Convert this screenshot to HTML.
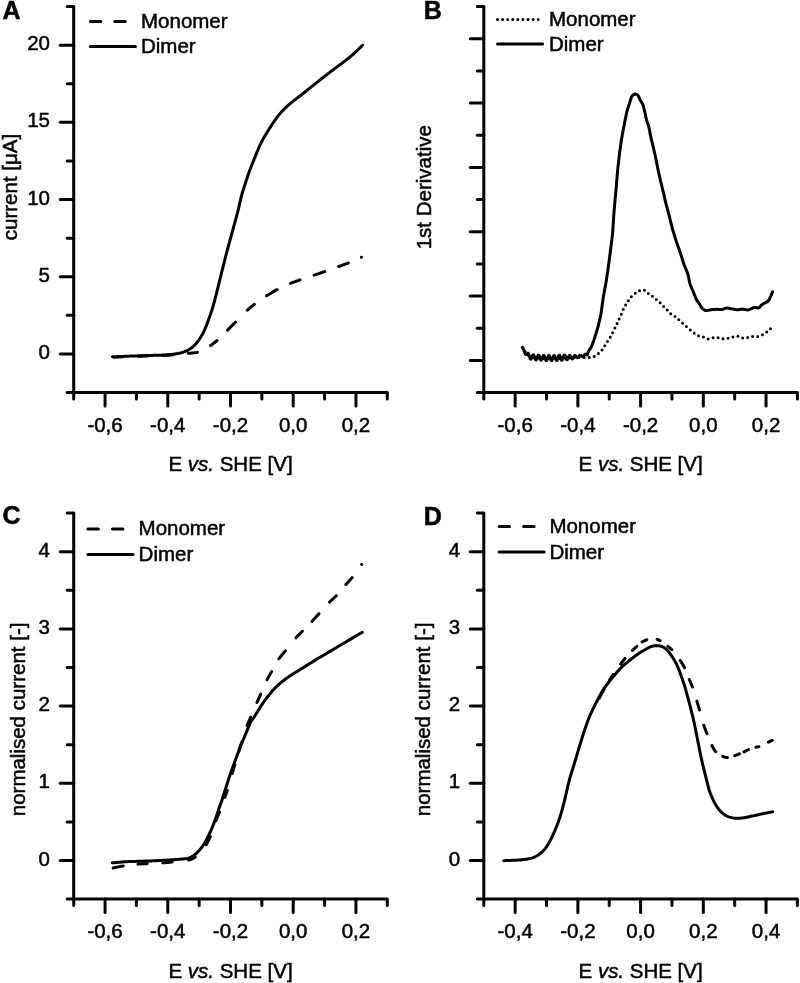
<!DOCTYPE html>
<html><head><meta charset="utf-8"><style>
html,body{margin:0;padding:0;background:#fff;}
body{width:800px;height:983px;overflow:hidden;font-family:"Liberation Sans", sans-serif;}
svg{display:block;will-change:transform;}
</style></head><body>
<svg width="800" height="983" viewBox="0 0 800 983">
<rect width="800" height="983" fill="#fff"/>
<g stroke="#000" stroke-width="3" stroke-linecap="round" fill="none">
<path d="M73.70,6.56 L73.70,392.56 L387.30,392.56" stroke-linejoin="miter" stroke-linecap="butt"/>
<path d="M105.06,392.56 v13.50"/>
<path d="M167.78,392.56 v13.50"/>
<path d="M230.50,392.56 v13.50"/>
<path d="M293.22,392.56 v13.50"/>
<path d="M355.94,392.56 v13.50"/>
<path d="M73.70,392.56 v6.50"/>
<path d="M136.42,392.56 v6.50"/>
<path d="M199.14,392.56 v6.50"/>
<path d="M261.86,392.56 v6.50"/>
<path d="M324.58,392.56 v6.50"/>
<path d="M387.30,392.56 v6.50"/>
<path d="M73.70,353.96 h-13.50"/>
<path d="M73.70,276.76 h-13.50"/>
<path d="M73.70,199.56 h-13.50"/>
<path d="M73.70,122.36 h-13.50"/>
<path d="M73.70,45.16 h-13.50"/>
<path d="M73.70,392.56 h-6.50"/>
<path d="M73.70,315.36 h-6.50"/>
<path d="M73.70,238.16 h-6.50"/>
<path d="M73.70,160.96 h-6.50"/>
<path d="M73.70,83.76 h-6.50"/>
<path d="M73.70,6.56 h-6.50"/>
</g>
<g font-family='"Liberation Sans", sans-serif' font-size="20.5" fill="#000" stroke="#000" stroke-width="0.5">
<text x="105.06" y="431.56" text-anchor="middle">-0,6</text>
<text x="167.78" y="431.56" text-anchor="middle">-0,4</text>
<text x="230.50" y="431.56" text-anchor="middle">-0,2</text>
<text x="293.22" y="431.56" text-anchor="middle">0,0</text>
<text x="355.94" y="431.56" text-anchor="middle">0,2</text>
<text x="50.00" y="358.96" text-anchor="end">0</text>
<text x="50.00" y="281.76" text-anchor="end">5</text>
<text x="50.00" y="204.56" text-anchor="end">10</text>
<text x="50.00" y="127.36" text-anchor="end">15</text>
<text x="50.00" y="50.16" text-anchor="end">20</text>
<text x="230.50" y="471.06" text-anchor="middle">E <tspan font-style="italic">vs.</tspan> SHE [V]</text>
<text transform="translate(16.50,187.00) rotate(-90)" text-anchor="middle">current [μA]</text>
<text x="2.60" y="18.90" font-weight="bold" font-size="25">A</text>
</g>
<g stroke="#000" stroke-width="3" stroke-linecap="round" fill="none">
<path d="M483.80,6.56 L483.80,392.56 L797.40,392.56" stroke-linejoin="miter" stroke-linecap="butt"/>
<path d="M515.16,392.56 v13.50"/>
<path d="M577.88,392.56 v13.50"/>
<path d="M640.60,392.56 v13.50"/>
<path d="M703.32,392.56 v13.50"/>
<path d="M766.04,392.56 v13.50"/>
<path d="M483.80,392.56 v6.50"/>
<path d="M546.52,392.56 v6.50"/>
<path d="M609.24,392.56 v6.50"/>
<path d="M671.96,392.56 v6.50"/>
<path d="M734.68,392.56 v6.50"/>
<path d="M797.40,392.56 v6.50"/>
<path d="M483.80,360.39 h-13.50"/>
<path d="M483.80,296.06 h-13.50"/>
<path d="M483.80,231.73 h-13.50"/>
<path d="M483.80,167.39 h-13.50"/>
<path d="M483.80,103.06 h-13.50"/>
<path d="M483.80,38.73 h-13.50"/>
<path d="M483.80,392.56 h-6.50"/>
<path d="M483.80,328.23 h-6.50"/>
<path d="M483.80,263.89 h-6.50"/>
<path d="M483.80,199.56 h-6.50"/>
<path d="M483.80,135.23 h-6.50"/>
<path d="M483.80,70.89 h-6.50"/>
<path d="M483.80,6.56 h-6.50"/>
</g>
<g font-family='"Liberation Sans", sans-serif' font-size="20.5" fill="#000" stroke="#000" stroke-width="0.5">
<text x="515.16" y="431.56" text-anchor="middle">-0,6</text>
<text x="577.88" y="431.56" text-anchor="middle">-0,4</text>
<text x="640.60" y="431.56" text-anchor="middle">-0,2</text>
<text x="703.32" y="431.56" text-anchor="middle">0,0</text>
<text x="766.04" y="431.56" text-anchor="middle">0,2</text>
<text x="640.60" y="471.06" text-anchor="middle">E <tspan font-style="italic">vs.</tspan> SHE [V]</text>
<text transform="translate(431.00,187.25) rotate(-90)" text-anchor="middle">1st Derivative</text>
<text x="423.80" y="18.90" font-weight="bold" font-size="25">B</text>
</g>
<g stroke="#000" stroke-width="3" stroke-linecap="round" fill="none">
<path d="M73.70,513.10 L73.70,899.10 L387.30,899.10" stroke-linejoin="miter" stroke-linecap="butt"/>
<path d="M105.06,899.10 v13.50"/>
<path d="M167.78,899.10 v13.50"/>
<path d="M230.50,899.10 v13.50"/>
<path d="M293.22,899.10 v13.50"/>
<path d="M355.94,899.10 v13.50"/>
<path d="M73.70,899.10 v6.50"/>
<path d="M136.42,899.10 v6.50"/>
<path d="M199.14,899.10 v6.50"/>
<path d="M261.86,899.10 v6.50"/>
<path d="M324.58,899.10 v6.50"/>
<path d="M387.30,899.10 v6.50"/>
<path d="M73.70,860.50 h-13.50"/>
<path d="M73.70,783.30 h-13.50"/>
<path d="M73.70,706.10 h-13.50"/>
<path d="M73.70,628.90 h-13.50"/>
<path d="M73.70,551.70 h-13.50"/>
<path d="M73.70,899.10 h-6.50"/>
<path d="M73.70,821.90 h-6.50"/>
<path d="M73.70,744.70 h-6.50"/>
<path d="M73.70,667.50 h-6.50"/>
<path d="M73.70,590.30 h-6.50"/>
<path d="M73.70,513.10 h-6.50"/>
</g>
<g font-family='"Liberation Sans", sans-serif' font-size="20.5" fill="#000" stroke="#000" stroke-width="0.5">
<text x="105.06" y="938.10" text-anchor="middle">-0,6</text>
<text x="167.78" y="938.10" text-anchor="middle">-0,4</text>
<text x="230.50" y="938.10" text-anchor="middle">-0,2</text>
<text x="293.22" y="938.10" text-anchor="middle">0,0</text>
<text x="355.94" y="938.10" text-anchor="middle">0,2</text>
<text x="50.00" y="865.50" text-anchor="end">0</text>
<text x="50.00" y="788.30" text-anchor="end">1</text>
<text x="50.00" y="711.10" text-anchor="end">2</text>
<text x="50.00" y="633.90" text-anchor="end">3</text>
<text x="50.00" y="556.70" text-anchor="end">4</text>
<text x="230.50" y="977.60" text-anchor="middle">E <tspan font-style="italic">vs.</tspan> SHE [V]</text>
<text transform="translate(24.80,719.40) rotate(-90)" text-anchor="middle">normalised current [-]</text>
<text x="2.40" y="524.40" font-weight="bold" font-size="25">C</text>
</g>
<g stroke="#000" stroke-width="3" stroke-linecap="round" fill="none">
<path d="M483.80,513.10 L483.80,899.10 L797.40,899.10" stroke-linejoin="miter" stroke-linecap="butt"/>
<path d="M515.16,899.10 v13.50"/>
<path d="M577.88,899.10 v13.50"/>
<path d="M640.60,899.10 v13.50"/>
<path d="M703.32,899.10 v13.50"/>
<path d="M766.04,899.10 v13.50"/>
<path d="M483.80,899.10 v6.50"/>
<path d="M546.52,899.10 v6.50"/>
<path d="M609.24,899.10 v6.50"/>
<path d="M671.96,899.10 v6.50"/>
<path d="M734.68,899.10 v6.50"/>
<path d="M797.40,899.10 v6.50"/>
<path d="M483.80,860.50 h-13.50"/>
<path d="M483.80,783.30 h-13.50"/>
<path d="M483.80,706.10 h-13.50"/>
<path d="M483.80,628.90 h-13.50"/>
<path d="M483.80,551.70 h-13.50"/>
<path d="M483.80,899.10 h-6.50"/>
<path d="M483.80,821.90 h-6.50"/>
<path d="M483.80,744.70 h-6.50"/>
<path d="M483.80,667.50 h-6.50"/>
<path d="M483.80,590.30 h-6.50"/>
<path d="M483.80,513.10 h-6.50"/>
</g>
<g font-family='"Liberation Sans", sans-serif' font-size="20.5" fill="#000" stroke="#000" stroke-width="0.5">
<text x="515.16" y="938.10" text-anchor="middle">-0,4</text>
<text x="577.88" y="938.10" text-anchor="middle">-0,2</text>
<text x="640.60" y="938.10" text-anchor="middle">0,0</text>
<text x="703.32" y="938.10" text-anchor="middle">0,2</text>
<text x="766.04" y="938.10" text-anchor="middle">0,4</text>
<text x="460.10" y="865.50" text-anchor="end">0</text>
<text x="460.10" y="788.30" text-anchor="end">1</text>
<text x="460.10" y="711.10" text-anchor="end">2</text>
<text x="460.10" y="633.90" text-anchor="end">3</text>
<text x="460.10" y="556.70" text-anchor="end">4</text>
<text x="640.60" y="977.60" text-anchor="middle">E <tspan font-style="italic">vs.</tspan> SHE [V]</text>
<text transform="translate(430.20,719.40) rotate(-90)" text-anchor="middle">normalised current [-]</text>
<text x="423.80" y="524.70" font-weight="bold" font-size="25">D</text>
</g>
<g stroke="#000" stroke-width="3" fill="none">
<path d="M90.30,21.45 h35.20" stroke-dasharray="10.5 14" stroke-linecap="round"/>
<path d="M90.30,46.40 h45.10" stroke-linecap="round"/>
</g>
<g font-family='"Liberation Sans", sans-serif' font-size="20.5" fill="#000" stroke="#000" stroke-width="0.5">
<text x="141.00" y="27.65">Monomer</text>
<text x="141.00" y="53.30">Dimer</text>
</g>
<g stroke="#000" stroke-width="3" fill="none">
<path d="M497.50,19.50 h40.90" stroke-dasharray="0 5.09" stroke-linecap="round"/>
<path d="M497.50,44.00 h45.10" stroke-linecap="round"/>
</g>
<g font-family='"Liberation Sans", sans-serif' font-size="20.5" fill="#000" stroke="#000" stroke-width="0.5">
<text x="549.00" y="25.70">Monomer</text>
<text x="549.00" y="50.90">Dimer</text>
</g>
<g stroke="#000" stroke-width="3" fill="none">
<path d="M87.90,529.00 h35.20" stroke-dasharray="10.5 14" stroke-linecap="round"/>
<path d="M87.90,554.40 h45.10" stroke-linecap="round"/>
</g>
<g font-family='"Liberation Sans", sans-serif' font-size="20.5" fill="#000" stroke="#000" stroke-width="0.5">
<text x="138.60" y="535.20">Monomer</text>
<text x="138.60" y="561.30">Dimer</text>
</g>
<g stroke="#000" stroke-width="3" fill="none">
<path d="M499.10,526.60 h35.20" stroke-dasharray="10.5 14" stroke-linecap="round"/>
<path d="M499.10,552.00 h45.10" stroke-linecap="round"/>
</g>
<g font-family='"Liberation Sans", sans-serif' font-size="20.5" fill="#000" stroke="#000" stroke-width="0.5">
<text x="549.40" y="532.80">Monomer</text>
<text x="549.40" y="558.90">Dimer</text>
</g>
<path d="M114.30,357.13 L114.40,357.13 L115.41,357.09 L116.41,357.05 L117.41,357.02 L118.41,356.98 L119.41,356.95 L120.41,356.91 L121.42,356.87 L122.42,356.84 L122.52,356.83 M138.34,356.26 L138.44,356.26 L139.45,356.22 L140.45,356.19 L141.45,356.15 L142.45,356.12 L143.45,356.09 L144.45,356.05 L145.46,356.02 L146.46,355.98 L147.46,355.95 L147.56,355.95 M163.39,355.42 L163.49,355.42 L164.49,355.38 L165.49,355.34 L166.49,355.30 L167.49,355.25 L168.49,355.20 L169.49,355.13 L170.49,355.05 L171.49,354.96 L172.48,354.86 L172.58,354.85 M188.34,353.32 L188.44,353.31 L189.44,353.24 L190.44,353.16 L191.44,353.08 L192.43,352.98 L193.43,352.88 L194.42,352.76 L195.41,352.62 L196.39,352.46 L197.36,352.27 L197.45,352.25 M210.51,345.58 L210.59,345.52 L211.40,344.94 L212.20,344.34 L213.00,343.73 L213.80,343.13 L214.59,342.51 L215.38,341.89 L216.16,341.27 L216.93,340.63 L217.01,340.57 M227.51,330.13 L227.59,330.05 L228.29,329.34 L229.00,328.63 L229.71,327.93 L230.42,327.22 L231.13,326.52 L231.85,325.81 L232.56,325.10 L233.27,324.40 L233.98,323.69 L234.68,322.98 L235.39,322.26 L235.46,322.19 M247.27,310.21 L247.35,310.15 L248.10,309.48 L248.86,308.83 L249.62,308.19 L250.39,307.54 L251.17,306.90 L251.94,306.27 L252.72,305.64 L253.50,305.01 L254.29,304.39 L254.37,304.33 M266.53,295.86 L266.61,295.80 L267.46,295.27 L268.31,294.74 L269.17,294.22 L270.03,293.70 L270.89,293.19 L271.75,292.67 L272.61,292.16 L273.47,291.65 L274.34,291.15 L275.21,290.65 L276.08,290.16 L276.96,289.67 L277.05,289.63 M290.47,283.36 L290.57,283.33 L291.50,282.96 L292.44,282.60 L293.38,282.25 L294.32,281.91 L295.26,281.57 L296.20,281.23 L297.14,280.89 L298.09,280.55 L299.03,280.22 L299.98,279.89 L300.08,279.86 M314.15,275.18 L314.25,275.14 L315.20,274.83 L316.15,274.51 L317.10,274.19 L318.05,273.87 L319.00,273.55 L319.95,273.23 L320.90,272.91 L321.85,272.59 L322.80,272.27 L323.74,271.94 L324.69,271.61 L324.79,271.58 M338.72,266.51 L338.82,266.47 L339.76,266.13 L340.70,265.79 L341.65,265.45 L342.59,265.11 L343.53,264.77 L344.47,264.43 L345.41,264.08 L346.35,263.73 L347.29,263.38 L348.22,263.01 L348.32,262.98 M361.53,257.21 L361.55,257.20" stroke="#000" stroke-width="3" fill="none" stroke-linejoin="round" stroke-linecap="round"/>
<path d="M112.40,356.80 L113.40,356.76 L114.40,356.72 L115.40,356.69 L116.40,356.65 L117.40,356.61 L118.40,356.57 L119.40,356.53 L120.40,356.50 L121.40,356.46 L122.40,356.42 L123.40,356.38 L124.41,356.34 L125.41,356.31 L126.41,356.27 L127.41,356.23 L128.41,356.19 L129.41,356.15 L130.41,356.12 L131.41,356.08 L132.41,356.04 L133.41,356.00 L134.41,355.97 L135.41,355.93 L136.41,355.89 L137.41,355.86 L138.41,355.82 L139.41,355.79 L140.41,355.76 L141.41,355.72 L142.41,355.69 L143.42,355.66 L144.42,355.63 L145.42,355.60 L146.42,355.57 L147.42,355.54 L148.42,355.51 L149.42,355.48 L150.42,355.46 L151.42,355.43 L152.42,355.40 L153.42,355.37 L154.42,355.34 L155.42,355.31 L156.42,355.28 L157.43,355.26 L158.43,355.23 L159.43,355.20 L160.43,355.17 L161.43,355.13 L162.43,355.10 L163.43,355.06 L164.43,355.02 L165.43,354.97 L166.42,354.91 L167.42,354.85 L168.42,354.78 L169.41,354.70 L170.41,354.60 L171.40,354.50 L172.39,354.38 L173.38,354.25 L174.37,354.11 L175.36,353.96 L176.34,353.79 L177.32,353.60 L178.30,353.41 L179.27,353.19 L180.24,352.96 L181.21,352.71 L182.16,352.44 L183.11,352.15 L184.05,351.83 L184.97,351.48 L185.89,351.11 L186.78,350.71 L187.67,350.28 L188.53,349.81 L189.38,349.32 L190.21,348.79 L191.02,348.23 L191.80,347.64 L192.57,347.02 L193.31,346.38 L194.03,345.71 L194.73,345.01 L195.41,344.30 L196.08,343.56 L196.72,342.80 L197.34,342.03 L197.94,341.24 L198.53,340.44 L199.10,339.62 L199.66,338.80 L200.20,337.96 L200.73,337.12 L201.25,336.26 L201.75,335.40 L202.24,334.53 L202.72,333.66 L203.19,332.77 L203.64,331.88 L204.08,330.99 L204.50,330.09 L204.91,329.18 L205.31,328.26 L205.70,327.34 L206.07,326.42 L206.43,325.49 L206.78,324.55 L207.12,323.62 L207.46,322.68 L207.80,321.74 L208.13,320.80 L208.47,319.85 L208.81,318.91 L209.15,317.97 L209.49,317.03 L209.83,316.09 L210.16,315.15 L210.50,314.21 L210.83,313.26 L211.15,312.32 L211.47,311.37 L211.79,310.42 L212.09,309.47 L212.39,308.51 L212.69,307.56 L212.97,306.60 L213.25,305.64 L213.53,304.68 L213.80,303.71 L214.06,302.75 L214.33,301.78 L214.58,300.82 L214.84,299.85 L215.09,298.88 L215.34,297.91 L215.59,296.94 L215.83,295.97 L216.08,295.00 L216.32,294.03 L216.57,293.06 L216.81,292.09 L217.05,291.11 L217.30,290.14 L217.54,289.17 L217.78,288.20 L218.02,287.23 L218.26,286.26 L218.50,285.28 L218.74,284.31 L218.98,283.34 L219.22,282.37 L219.45,281.39 L219.69,280.42 L219.93,279.45 L220.16,278.48 L220.40,277.50 L220.64,276.53 L220.88,275.56 L221.12,274.59 L221.36,273.62 L221.61,272.65 L221.85,271.67 L222.09,270.70 L222.34,269.73 L222.58,268.76 L222.82,267.79 L223.07,266.82 L223.31,265.85 L223.55,264.88 L223.80,263.91 L224.04,262.93 L224.29,261.96 L224.53,260.99 L224.77,260.02 L225.02,259.05 L225.26,258.08 L225.51,257.11 L225.75,256.14 L226.00,255.17 L226.25,254.20 L226.50,253.23 L226.75,252.26 L227.00,251.29 L227.25,250.32 L227.51,249.36 L227.77,248.39 L228.03,247.42 L228.29,246.45 L228.55,245.49 L228.81,244.52 L229.08,243.56 L229.34,242.59 L229.61,241.63 L229.87,240.66 L230.14,239.70 L230.41,238.73 L230.67,237.77 L230.94,236.80 L231.21,235.84 L231.47,234.87 L231.74,233.90 L232.00,232.94 L232.27,231.97 L232.53,231.01 L232.80,230.04 L233.06,229.08 L233.33,228.11 L233.59,227.15 L233.86,226.18 L234.12,225.22 L234.39,224.25 L234.65,223.28 L234.91,222.32 L235.18,221.35 L235.44,220.39 L235.70,219.42 L235.96,218.45 L236.23,217.49 L236.49,216.52 L236.75,215.55 L237.00,214.59 L237.26,213.62 L237.51,212.65 L237.76,211.68 L238.01,210.71 L238.25,209.74 L238.49,208.77 L238.72,207.80 L238.95,206.82 L239.17,205.85 L239.39,204.87 L239.60,203.90 L239.82,202.92 L240.03,201.95 L240.25,200.97 L240.47,200.00 L240.70,199.02 L240.94,198.05 L241.18,197.08 L241.43,196.12 L241.69,195.15 L241.96,194.19 L242.23,193.23 L242.51,192.27 L242.80,191.31 L243.09,190.35 L243.38,189.39 L243.69,188.44 L243.99,187.49 L244.30,186.53 L244.61,185.58 L244.92,184.63 L245.23,183.68 L245.55,182.73 L245.86,181.78 L246.18,180.83 L246.49,179.88 L246.81,178.93 L247.12,177.98 L247.44,177.03 L247.76,176.08 L248.08,175.13 L248.41,174.19 L248.73,173.24 L249.07,172.30 L249.40,171.35 L249.75,170.41 L250.09,169.48 L250.44,168.54 L250.80,167.60 L251.16,166.67 L251.53,165.74 L251.90,164.81 L252.27,163.88 L252.64,162.95 L253.02,162.02 L253.39,161.09 L253.77,160.17 L254.14,159.24 L254.52,158.31 L254.89,157.38 L255.27,156.45 L255.64,155.52 L256.02,154.60 L256.39,153.67 L256.77,152.74 L257.14,151.81 L257.52,150.89 L257.90,149.96 L258.29,149.04 L258.68,148.12 L259.08,147.20 L259.49,146.29 L259.90,145.38 L260.32,144.47 L260.75,143.57 L261.19,142.67 L261.64,141.78 L262.10,140.89 L262.57,140.01 L263.05,139.13 L263.53,138.26 L264.02,137.39 L264.53,136.52 L265.03,135.66 L265.55,134.80 L266.07,133.95 L266.59,133.10 L267.12,132.25 L267.65,131.40 L268.19,130.55 L268.72,129.71 L269.26,128.86 L269.80,128.02 L270.34,127.18 L270.88,126.33 L271.42,125.49 L271.97,124.65 L272.51,123.81 L273.06,122.98 L273.62,122.15 L274.18,121.32 L274.75,120.49 L275.32,119.67 L275.90,118.86 L276.49,118.06 L277.09,117.26 L277.70,116.46 L278.32,115.68 L278.95,114.90 L279.58,114.13 L280.23,113.37 L280.89,112.62 L281.55,111.87 L282.23,111.14 L282.91,110.41 L283.60,109.69 L284.30,108.97 L285.01,108.27 L285.73,107.57 L286.45,106.89 L287.18,106.21 L287.93,105.54 L288.67,104.88 L289.43,104.22 L290.19,103.58 L290.96,102.94 L291.74,102.31 L292.52,101.68 L293.30,101.06 L294.09,100.44 L294.88,99.83 L295.67,99.22 L296.47,98.61 L297.26,98.00 L298.06,97.40 L298.86,96.79 L299.65,96.19 L300.45,95.59 L301.24,94.98 L302.03,94.37 L302.82,93.76 L303.60,93.14 L304.38,92.52 L305.15,91.89 L305.92,91.26 L306.69,90.62 L307.45,89.99 L308.22,89.35 L308.98,88.71 L309.75,88.07 L310.52,87.44 L311.30,86.81 L312.08,86.18 L312.86,85.56 L313.64,84.94 L314.43,84.32 L315.22,83.71 L316.01,83.09 L316.80,82.48 L317.59,81.86 L318.38,81.25 L319.17,80.63 L319.95,80.01 L320.74,79.39 L321.53,78.77 L322.31,78.15 L323.10,77.54 L323.89,76.92 L324.67,76.30 L325.46,75.68 L326.25,75.07 L327.04,74.46 L327.84,73.84 L328.63,73.23 L329.43,72.63 L330.22,72.02 L331.02,71.41 L331.82,70.81 L332.62,70.21 L333.42,69.61 L334.22,69.00 L335.02,68.40 L335.82,67.80 L336.62,67.20 L337.43,66.60 L338.23,66.01 L339.03,65.41 L339.83,64.81 L340.63,64.21 L341.44,63.61 L342.24,63.01 L343.04,62.41 L343.84,61.80 L344.63,61.20 L345.43,60.59 L346.22,59.98 L347.01,59.37 L347.80,58.75 L348.58,58.12 L349.35,57.49 L350.13,56.86 L350.89,56.22 L351.65,55.57 L352.41,54.91 L353.16,54.25 L353.90,53.58 L354.64,52.90 L355.37,52.22 L356.10,51.54 L356.83,50.85 L357.55,50.16 L358.27,49.46 L358.99,48.77 L359.70,48.07 L360.42,47.36 L361.13,46.66 L361.84,45.95 L362.55,45.25" stroke="#000" stroke-width="3" fill="none" stroke-linejoin="round" stroke-linecap="round"/>
<path d="M522.50,347.50 L523.04,348.34 L523.58,349.19 L524.11,350.03 L524.66,350.87 L525.21,351.71 L525.79,352.52 L526.41,353.29 L527.08,354.03 L527.78,354.74 L528.51,355.40 L529.29,355.98 L530.13,356.45 L531.04,356.80 L531.99,357.07 L532.96,357.31 L533.93,357.52 L534.92,357.69 L535.91,357.83 L536.90,357.93 L537.90,358.01 L538.90,358.08 L539.89,358.16 L540.89,358.23 L541.89,358.30 L542.89,358.37 L543.89,358.44 L544.89,358.51 L545.89,358.55 L546.89,358.58 L547.89,358.59 L548.89,358.60 L549.89,358.60 L550.89,358.60 L551.89,358.60 L552.89,358.60 L553.90,358.59 L554.90,358.57 L555.90,358.53 L556.90,358.48 L557.90,358.43 L558.89,358.37 L559.89,358.31 L560.89,358.25 L561.89,358.19 L562.89,358.13 L563.89,358.07 L564.89,358.01 L565.89,357.96 L566.89,357.91 L567.89,357.86 L568.89,357.81 L569.89,357.76 L570.89,357.71 L571.89,357.66 L572.89,357.61 L573.89,357.57 L574.89,357.53 L575.89,357.51 L576.89,357.50 L577.89,357.50 L578.90,357.50 L579.90,357.50 L580.90,357.50 L581.90,357.50 L582.90,357.50 L583.90,357.50 L584.90,357.50 L585.90,357.50 L586.91,357.49 L587.91,357.47 L588.91,357.45 L589.91,357.40 L590.90,357.34 L591.88,357.22 L592.83,357.01 L593.73,356.67 L594.61,356.22 L595.45,355.71 L596.29,355.16 L597.11,354.59 L597.91,354.00 L598.69,353.37 L599.46,352.73 L600.20,352.07 L600.91,351.37 L601.56,350.62 L602.16,349.83 L602.73,349.01 L603.28,348.17 L603.81,347.33 L604.33,346.47 L604.84,345.61 L605.35,344.75 L605.86,343.89 L606.39,343.04 L606.94,342.20 L607.51,341.38 L608.09,340.57 L608.67,339.75 L609.23,338.93 L609.78,338.09 L610.29,337.23 L610.79,336.36 L611.27,335.48 L611.73,334.60 L612.16,333.69 L612.57,332.78 L612.97,331.87 L613.38,330.95 L613.81,330.05 L614.27,329.16 L614.75,328.29 L615.24,327.41 L615.72,326.54 L616.18,325.65 L616.59,324.75 L616.97,323.82 L617.31,322.88 L617.66,321.95 L618.04,321.02 L618.46,320.12 L618.91,319.23 L619.39,318.35 L619.87,317.48 L620.33,316.59 L620.75,315.69 L621.14,314.77 L621.51,313.84 L621.88,312.90 L622.24,311.97 L622.62,311.04 L623.00,310.12 L623.40,309.20 L623.82,308.29 L624.26,307.40 L624.74,306.52 L625.25,305.67 L625.79,304.82 L626.34,303.99 L626.89,303.15 L627.43,302.31 L627.96,301.46 L628.49,300.61 L629.02,299.76 L629.56,298.93 L630.14,298.12 L630.77,297.35 L631.44,296.60 L632.12,295.88 L632.84,295.18 L633.58,294.52 L634.37,293.91 L635.19,293.35 L636.03,292.81 L636.88,292.28 L637.73,291.75 L638.59,291.24 L639.46,290.78 L640.36,290.39 L641.29,290.12 L642.25,289.98 L643.19,289.97 L644.08,290.12 L644.88,290.49 L645.58,291.06 L646.23,291.76 L646.89,292.47 L647.61,293.08 L648.42,293.55 L649.30,293.92 L650.18,294.28 L650.99,294.75 L651.68,295.38 L652.27,296.13 L652.84,296.92 L653.46,297.65 L654.16,298.27 L654.97,298.75 L655.84,299.16 L656.69,299.61 L657.50,300.16 L658.25,300.80 L658.96,301.49 L659.65,302.21 L660.32,302.95 L660.98,303.70 L661.63,304.46 L662.28,305.22 L662.96,305.95 L663.67,306.65 L664.41,307.32 L665.17,307.97 L665.91,308.64 L666.61,309.34 L667.26,310.09 L667.87,310.87 L668.48,311.66 L669.11,312.40 L669.82,313.06 L670.61,313.64 L671.45,314.15 L672.31,314.65 L673.16,315.18 L673.98,315.74 L674.77,316.35 L675.55,316.97 L676.32,317.62 L677.07,318.28 L677.81,318.95 L678.55,319.62 L679.30,320.30 L680.04,320.97 L680.79,321.63 L681.54,322.29 L682.29,322.96 L683.04,323.62 L683.79,324.28 L684.54,324.94 L685.29,325.60 L686.05,326.27 L686.80,326.93 L687.55,327.59 L688.30,328.25 L689.06,328.91 L689.82,329.56 L690.58,330.20 L691.36,330.83 L692.14,331.46 L692.92,332.09 L693.70,332.71 L694.49,333.34 L695.27,333.96 L696.06,334.55 L696.88,335.10 L697.75,335.54 L698.67,335.86 L699.62,336.10 L700.60,336.29 L701.58,336.49 L702.54,336.72 L703.48,337.02 L704.38,337.41 L705.26,337.87 L706.13,338.34 L707.00,338.74 L707.89,338.98 L708.80,339.01 L709.73,338.86 L710.68,338.59 L711.63,338.29 L712.58,337.98 L713.53,337.69 L714.48,337.45 L715.44,337.33 L716.40,337.35 L717.37,337.49 L718.34,337.70 L719.32,337.93 L720.29,338.17 L721.26,338.40 L722.23,338.63 L723.20,338.81 L724.18,338.90 L725.15,338.86 L726.11,338.72 L727.08,338.50 L728.05,338.25 L729.02,338.00 L729.98,337.74 L730.95,337.48 L731.92,337.22 L732.89,336.97 L733.86,336.73 L734.83,336.50 L735.80,336.29 L736.77,336.15 L737.72,336.13 L738.65,336.29 L739.56,336.60 L740.46,336.99 L741.36,337.42 L742.26,337.83 L743.16,338.14 L744.07,338.29 L744.99,338.22 L745.93,337.99 L746.86,337.67 L747.80,337.34 L748.75,337.03 L749.70,336.78 L750.67,336.62 L751.66,336.54 L752.66,336.51 L753.66,336.50 L754.66,336.50 L755.66,336.50 L756.66,336.48 L757.64,336.43 L758.61,336.30 L759.56,336.05 L760.48,335.71 L761.38,335.30 L762.28,334.86 L763.17,334.40 L764.04,333.92 L764.89,333.40 L765.69,332.82 L766.47,332.19 L767.23,331.54 L767.99,330.89 L768.74,330.23 L769.49,329.57 L770.25,328.91 L771.00,328.25" stroke="#000" stroke-width="3" fill="none" stroke-linejoin="round" stroke-dasharray="0 5.09" stroke-linecap="round"/>
<path d="M522.30,347.40 L522.75,347.82 L523.20,348.58 L523.65,349.66 L524.10,350.96 L524.55,352.29 L525.00,353.49 L525.45,354.19 L525.90,354.55 L526.35,354.61 L526.80,354.48 L527.25,354.35 L527.70,354.41 L528.15,353.25 L528.60,353.84 L529.05,355.05 L529.50,356.56 L529.95,357.99 L530.40,358.95 L530.85,359.21 L531.30,358.74 L531.75,357.70 L532.20,356.44 L532.65,355.36 L533.10,354.78 L533.55,354.85 L534.00,355.63 L534.45,356.91 L534.90,358.32 L535.35,359.47 L535.80,360.03 L536.25,359.85 L536.70,358.98 L537.15,357.68 L537.60,356.34 L538.05,355.35 L538.50,355.00 L538.95,355.40 L539.40,356.44 L539.85,357.83 L540.30,359.17 L540.75,360.09 L541.20,360.32 L541.65,359.81 L542.10,358.71 L542.55,357.35 L543.00,356.11 L543.45,355.38 L543.90,355.36 L544.35,356.07 L544.80,357.31 L545.25,358.73 L545.70,359.93 L546.15,360.56 L546.60,360.43 L547.05,359.60 L547.50,358.31 L547.95,356.93 L548.40,355.86 L548.85,355.40 L549.30,355.70 L549.75,356.65 L550.20,358.00 L550.65,359.35 L551.10,360.30 L551.55,360.60 L552.00,360.14 L552.45,359.07 L552.90,357.69 L553.35,356.40 L553.80,355.57 L554.25,355.44 L554.70,356.05 L555.15,357.22 L555.60,358.60 L556.05,359.80 L556.50,360.46 L556.95,360.40 L557.40,359.63 L557.85,358.35 L558.30,356.95 L558.75,355.80 L559.20,355.25 L559.65,355.44 L560.10,356.32 L560.55,357.62 L561.00,358.97 L561.45,359.97 L561.90,360.32 L562.35,359.93 L562.80,358.90 L563.25,357.51 L563.70,356.18 L564.15,355.26 L564.60,355.03 L565.05,355.55 L565.50,356.67 L565.95,357.99 L566.40,359.13 L566.85,359.77 L567.30,359.73 L567.75,359.05 L568.20,357.94 L568.65,356.73 L569.10,355.76 L569.55,355.29 L570.00,355.41 L570.45,356.06 L570.90,357.01 L571.35,357.98 L571.80,358.69 L572.25,358.92 L572.70,358.65 L573.15,357.97 L573.60,357.08 L574.05,356.25 L574.50,355.70 L574.95,355.56 L575.40,355.79 L575.85,356.31 L576.30,356.95 L576.75,357.49 L577.20,357.76 L577.65,357.70 L578.10,357.32 L578.55,356.74 L579.00,356.12 L579.45,355.63 L579.90,355.33 L580.35,355.28 L580.80,355.47 L581.25,355.84 L581.70,356.25 L582.15,356.57 L582.60,356.69 L583.05,356.54 L583.50,356.16 L583.95,355.59 L584.40,354.97 L584.85,354.47 L585.30,354.19 L585.75,354.18 L586.20,354.39 L586.65,354.73 L587.10,355.04 L587.50,354.40 L587.77,353.44 L588.06,352.49 L588.42,351.56 L588.88,350.68 L589.40,349.83 L589.94,348.99 L590.48,348.15 L591.00,347.30 L591.47,346.43 L591.89,345.52 L592.26,344.59 L592.61,343.66 L592.97,342.72 L593.32,341.79 L593.67,340.85 L594.00,339.90 L594.31,338.95 L594.61,338.00 L594.91,337.04 L595.20,336.09 L595.50,335.13 L595.79,334.17 L596.09,333.22 L596.38,332.26 L596.68,331.31 L596.97,330.35 L597.26,329.39 L597.55,328.44 L597.83,327.48 L598.09,326.51 L598.33,325.54 L598.56,324.56 L598.79,323.59 L599.01,322.62 L599.24,321.64 L599.46,320.67 L599.69,319.69 L599.91,318.72 L600.14,317.74 L600.36,316.77 L600.58,315.79 L600.80,314.81 L600.99,313.83 L601.15,312.84 L601.29,311.85 L601.42,310.86 L601.56,309.87 L601.69,308.88 L601.82,307.89 L601.96,306.90 L602.09,305.90 L602.23,304.91 L602.36,303.92 L602.49,302.93 L602.63,301.94 L602.76,300.95 L602.90,299.96 L603.03,298.96 L603.18,297.97 L603.34,296.99 L603.51,296.00 L603.69,295.02 L603.87,294.03 L604.06,293.05 L604.24,292.07 L604.42,291.08 L604.60,290.10 L604.78,289.11 L604.96,288.13 L605.14,287.15 L605.32,286.16 L605.50,285.18 L605.69,284.19 L605.87,283.21 L606.04,282.22 L606.21,281.24 L606.37,280.25 L606.51,279.26 L606.66,278.27 L606.81,277.28 L606.95,276.29 L607.10,275.30 L607.24,274.31 L607.39,273.32 L607.54,272.33 L607.68,271.34 L607.83,270.35 L607.97,269.36 L608.12,268.37 L608.26,267.38 L608.41,266.39 L608.55,265.40 L608.69,264.41 L608.82,263.42 L608.95,262.43 L609.08,261.43 L609.20,260.44 L609.33,259.45 L609.46,258.46 L609.59,257.46 L609.72,256.47 L609.85,255.48 L609.98,254.49 L610.10,253.49 L610.23,252.50 L610.36,251.51 L610.49,250.52 L610.62,249.53 L610.74,248.53 L610.87,247.54 L610.99,246.55 L611.11,245.55 L611.23,244.56 L611.35,243.57 L611.48,242.57 L611.60,241.58 L611.72,240.59 L611.84,239.59 L611.96,238.60 L612.09,237.61 L612.21,236.62 L612.33,235.62 L612.45,234.63 L612.57,233.64 L612.67,232.64 L612.75,231.64 L612.82,230.65 L612.88,229.65 L612.94,228.65 L613.00,227.65 L613.06,226.65 L613.13,225.65 L613.19,224.65 L613.25,223.65 L613.31,222.66 L613.37,221.66 L613.43,220.66 L613.49,219.66 L613.56,218.66 L613.62,217.66 L613.68,216.66 L613.75,215.67 L613.83,214.67 L613.91,213.67 L613.99,212.67 L614.07,211.68 L614.15,210.68 L614.23,209.68 L614.31,208.68 L614.39,207.69 L614.47,206.69 L614.55,205.69 L614.63,204.69 L614.72,203.70 L614.81,202.70 L614.91,201.71 L615.00,200.71 L615.09,199.71 L615.18,198.72 L615.27,197.72 L615.37,196.72 L615.46,195.73 L615.55,194.73 L615.64,193.73 L615.74,192.74 L615.83,191.74 L615.92,190.75 L616.01,189.75 L616.10,188.75 L616.18,187.76 L616.27,186.76 L616.35,185.76 L616.43,184.76 L616.51,183.77 L616.59,182.77 L616.68,181.77 L616.76,180.78 L616.84,179.78 L616.92,178.78 L617.00,177.78 L617.08,176.79 L617.17,175.79 L617.25,174.79 L617.33,173.79 L617.41,172.80 L617.50,171.80 L617.59,170.80 L617.68,169.81 L617.79,168.81 L617.90,167.82 L618.01,166.82 L618.12,165.83 L618.23,164.84 L618.34,163.84 L618.45,162.85 L618.56,161.85 L618.67,160.86 L618.78,159.86 L618.89,158.87 L619.00,157.87 L619.11,156.88 L619.22,155.88 L619.34,154.89 L619.45,153.90 L619.58,152.90 L619.71,151.91 L619.85,150.92 L620.00,149.93 L620.14,148.94 L620.28,147.95 L620.42,146.96 L620.56,145.97 L620.70,144.98 L620.84,143.99 L620.99,143.00 L621.13,142.01 L621.27,141.02 L621.41,140.03 L621.57,139.04 L621.73,138.05 L621.91,137.07 L622.09,136.08 L622.27,135.10 L622.45,134.11 L622.63,133.13 L622.82,132.15 L623.00,131.16 L623.18,130.18 L623.37,129.20 L623.55,128.21 L623.74,127.23 L623.93,126.25 L624.12,125.27 L624.31,124.28 L624.50,123.30 L624.70,122.32 L624.89,121.34 L625.08,120.36 L625.27,119.37 L625.47,118.39 L625.67,117.41 L625.88,116.43 L626.08,115.45 L626.29,114.48 L626.49,113.50 L626.70,112.52 L626.92,111.54 L627.16,110.57 L627.44,109.61 L627.74,108.66 L628.05,107.71 L628.36,106.76 L628.68,105.81 L628.99,104.86 L629.30,103.90 L629.60,102.95 L629.89,101.99 L630.18,101.04 L630.47,100.08 L630.76,99.12 L631.06,98.17 L631.38,97.24 L631.81,96.37 L632.40,95.62 L633.11,94.97 L633.90,94.43 L634.71,94.09 L635.54,94.08 L636.39,94.37 L637.21,94.85 L637.93,95.47 L638.48,96.23 L638.91,97.10 L639.28,98.02 L639.66,98.95 L640.09,99.84 L640.58,100.71 L641.10,101.56 L641.64,102.40 L642.17,103.25 L642.64,104.12 L643.03,105.03 L643.34,105.97 L643.59,106.94 L643.83,107.91 L644.07,108.88 L644.30,109.85 L644.54,110.82 L644.76,111.80 L644.98,112.78 L645.19,113.75 L645.40,114.73 L645.61,115.71 L645.81,116.69 L646.02,117.67 L646.23,118.65 L646.46,119.62 L646.72,120.58 L647.02,121.53 L647.35,122.48 L647.69,123.42 L648.03,124.36 L648.35,125.31 L648.65,126.26 L648.91,127.22 L649.12,128.20 L649.31,129.18 L649.50,130.16 L649.69,131.15 L649.87,132.13 L650.06,133.11 L650.25,134.10 L650.44,135.08 L650.63,136.06 L650.83,137.04 L651.04,138.02 L651.27,138.99 L651.50,139.97 L651.74,140.94 L651.98,141.91 L652.22,142.88 L652.46,143.85 L652.69,144.82 L652.93,145.80 L653.17,146.77 L653.40,147.74 L653.62,148.72 L653.84,149.69 L654.07,150.67 L654.29,151.64 L654.51,152.62 L654.73,153.60 L654.95,154.57 L655.17,155.55 L655.40,156.52 L655.61,157.50 L655.82,158.48 L656.02,159.46 L656.22,160.44 L656.41,161.42 L656.61,162.40 L656.80,163.38 L656.99,164.37 L657.19,165.35 L657.38,166.33 L657.57,167.31 L657.77,168.29 L657.96,169.27 L658.16,170.25 L658.37,171.23 L658.59,172.21 L658.81,173.19 L659.03,174.16 L659.25,175.14 L659.48,176.11 L659.70,177.09 L659.92,178.06 L660.14,179.04 L660.36,180.02 L660.59,180.99 L660.82,181.96 L661.06,182.94 L661.30,183.91 L661.54,184.88 L661.78,185.85 L662.02,186.82 L662.26,187.79 L662.50,188.76 L662.74,189.74 L662.97,190.71 L663.20,191.68 L663.43,192.66 L663.65,193.63 L663.87,194.61 L664.10,195.58 L664.32,196.56 L664.54,197.53 L664.76,198.51 L664.98,199.49 L665.21,200.46 L665.43,201.44 L665.67,202.41 L665.92,203.38 L666.17,204.35 L666.43,205.31 L666.68,206.28 L666.94,207.25 L667.20,208.21 L667.45,209.18 L667.71,210.15 L667.97,211.11 L668.22,212.08 L668.48,213.05 L668.74,214.02 L668.99,214.98 L669.24,215.95 L669.48,216.92 L669.72,217.89 L669.97,218.87 L670.21,219.84 L670.45,220.81 L670.69,221.78 L670.94,222.75 L671.18,223.72 L671.42,224.69 L671.67,225.66 L671.91,226.63 L672.15,227.60 L672.40,228.57 L672.65,229.54 L672.92,230.50 L673.21,231.46 L673.51,232.42 L673.80,233.37 L674.10,234.33 L674.40,235.28 L674.70,236.24 L675.00,237.19 L675.30,238.15 L675.59,239.10 L675.89,240.06 L676.20,241.01 L676.51,241.96 L676.83,242.91 L677.16,243.85 L677.50,244.79 L677.83,245.74 L678.17,246.68 L678.51,247.62 L678.84,248.56 L679.18,249.51 L679.52,250.45 L679.85,251.39 L680.18,252.34 L680.49,253.29 L680.79,254.24 L681.09,255.19 L681.39,256.15 L681.69,257.10 L681.99,258.06 L682.29,259.02 L682.58,259.97 L682.88,260.93 L683.18,261.88 L683.48,262.83 L683.80,263.78 L684.13,264.73 L684.49,265.66 L684.87,266.58 L685.25,267.51 L685.64,268.43 L686.02,269.36 L686.41,270.28 L686.79,271.20 L687.17,272.13 L687.51,273.07 L687.81,274.02 L688.06,274.98 L688.28,275.96 L688.49,276.94 L688.70,277.91 L688.91,278.89 L689.12,279.87 L689.33,280.85 L689.54,281.83 L689.76,282.80 L690.02,283.76 L690.33,284.71 L690.69,285.64 L691.07,286.57 L691.45,287.49 L691.84,288.42 L692.22,289.34 L692.61,290.26 L692.99,291.19 L693.38,292.11 L693.76,293.04 L694.13,293.96 L694.50,294.89 L694.87,295.82 L695.24,296.76 L695.61,297.68 L695.99,298.61 L696.40,299.51 L696.88,300.37 L697.45,301.19 L698.06,301.97 L698.67,302.76 L699.24,303.58 L699.75,304.43 L700.23,305.31 L700.70,306.19 L701.22,307.03 L701.82,307.81 L702.50,308.52 L703.24,309.18 L704.01,309.79 L704.82,310.25 L705.69,310.48 L706.63,310.48 L707.60,310.35 L708.59,310.18 L709.57,310.01 L710.56,309.85 L711.55,309.71 L712.54,309.59 L713.54,309.49 L714.53,309.39 L715.53,309.32 L716.53,309.29 L717.52,309.33 L718.52,309.40 L719.52,309.48 L720.51,309.56 L721.49,309.59 L722.45,309.49 L723.35,309.19 L724.23,308.76 L725.10,308.35 L726.01,308.10 L726.96,308.06 L727.93,308.17 L728.92,308.33 L729.90,308.50 L730.89,308.68 L731.87,308.86 L732.85,309.06 L733.83,309.26 L734.81,309.45 L735.79,309.64 L736.77,309.77 L737.76,309.80 L738.74,309.71 L739.71,309.54 L740.69,309.34 L741.67,309.18 L742.65,309.11 L743.62,309.19 L744.59,309.39 L745.56,309.63 L746.52,309.85 L747.48,309.97 L748.41,309.90 L749.32,309.63 L750.22,309.23 L751.12,308.79 L752.01,308.35 L752.91,307.93 L753.81,307.59 L754.73,307.46 L755.67,307.55 L756.61,307.79 L757.53,308.01 L758.39,308.02 L759.15,307.69 L759.82,307.08 L760.46,306.34 L761.10,305.58 L761.78,304.87 L762.54,304.25 L763.37,303.72 L764.24,303.25 L765.14,302.80 L766.03,302.35 L766.90,301.88 L767.71,301.35 L768.39,300.69 L768.95,299.90 L769.44,299.04 L769.89,298.15 L770.33,297.25 L770.74,296.34 L771.12,295.42 L771.49,294.49 L771.86,293.56 L772.23,292.63 L772.60,291.70" stroke="#000" stroke-width="3" fill="none" stroke-linejoin="round" stroke-linecap="round"/>
<path d="M113.18,867.92 L113.28,867.90 L114.26,867.70 L115.25,867.50 L116.23,867.30 L117.21,867.10 L118.19,866.90 L119.17,866.71 L120.16,866.51 L121.14,866.33 L122.12,866.15 L123.11,865.97 L123.21,865.96 M137.91,864.12 L138.01,864.11 L139.01,864.04 L140.01,863.98 L141.01,863.92 L142.01,863.87 L143.01,863.82 L144.01,863.78 L145.01,863.73 L146.01,863.68 L147.01,863.64 L147.11,863.63 M162.92,862.88 L163.02,862.87 L164.02,862.79 L165.02,862.69 L166.01,862.60 L167.01,862.49 L168.00,862.39 L169.00,862.28 L170.00,862.18 L170.99,862.08 L171.99,861.98 L172.09,861.97 M188.73,860.15 L188.81,860.12 L189.75,859.81 L190.67,859.46 L191.58,859.07 L192.48,858.64 L193.36,858.19 L194.23,857.71 L195.07,857.19 L195.15,857.14 M206.15,844.72 L206.20,844.64 L206.69,843.77 L207.17,842.89 L207.64,842.01 L208.10,841.12 L208.55,840.23 L209.00,839.33 L209.44,838.43 L209.88,837.53 L210.30,836.62 L210.34,836.53 M215.95,820.70 L215.98,820.61 L216.34,819.67 L216.71,818.75 L217.09,817.83 L217.50,816.91 L217.91,816.00 L218.32,815.09 L218.72,814.17 L219.12,813.25 L219.51,812.33 L219.55,812.24 M224.86,797.34 L224.89,797.24 L225.23,796.30 L225.56,795.36 L225.90,794.41 L226.23,793.47 L226.56,792.52 L226.89,791.58 L227.22,790.63 L227.25,790.53 M232.25,773.42 L232.27,773.33 L232.55,772.36 L232.82,771.40 L233.10,770.44 L233.38,769.47 L233.66,768.51 L233.94,767.55 L234.23,766.59 L234.51,765.63 L234.80,764.67 L234.83,764.57 M238.81,751.34 L238.84,751.24 L239.14,750.28 L239.43,749.33 L239.73,748.37 L240.04,747.42 L240.34,746.46 L240.64,745.51 L240.95,744.55 L241.25,743.60 L241.56,742.64 L241.87,741.69 L241.90,741.59 M247.16,725.62 L247.20,725.52 L247.56,724.59 L247.93,723.66 L248.31,722.73 L248.69,721.81 L249.08,720.88 L249.47,719.96 L249.86,719.04 L250.26,718.12 L250.65,717.20 L250.69,717.10 M256.92,702.56 L256.96,702.46 L257.37,701.55 L257.79,700.64 L258.21,699.73 L258.63,698.82 L259.05,697.91 L259.47,697.00 L259.88,696.09 L260.30,695.18 L260.71,694.26 L260.75,694.17 M267.09,679.69 L267.14,679.60 L267.61,678.71 L268.09,677.84 L268.58,676.96 L269.07,676.09 L269.57,675.23 L270.07,674.36 L270.57,673.49 L271.06,672.62 L271.56,671.75 L271.60,671.66 M278.91,658.79 L278.96,658.71 L279.55,657.91 L280.16,657.12 L280.79,656.34 L281.43,655.57 L282.07,654.80 L282.72,654.04 L283.37,653.28 L284.01,652.51 L284.65,651.74 L285.29,650.97 L285.35,650.89 M295.91,637.80 L295.98,637.73 L296.66,637.00 L297.36,636.28 L298.06,635.56 L298.76,634.85 L299.47,634.14 L300.17,633.43 L300.88,632.72 L301.59,632.01 L302.29,631.30 L302.37,631.23 M312.05,621.36 L312.12,621.29 L312.80,620.56 L313.48,619.82 L314.16,619.08 L314.83,618.35 L315.51,617.60 L316.18,616.86 L316.85,616.12 L317.52,615.38 L318.20,614.63 L318.87,613.89 L318.93,613.81 M329.57,602.11 L329.64,602.03 L330.36,601.33 L331.08,600.64 L331.81,599.96 L332.54,599.27 L333.28,598.59 L334.01,597.91 L334.73,597.22 L335.45,596.52 L336.16,595.82 L336.23,595.75 M345.86,584.50 L345.93,584.42 L346.60,583.68 L347.28,582.94 L347.96,582.21 L348.64,581.48 L349.32,580.74 L350.00,580.01 L350.67,579.26 L351.33,578.52 L351.98,577.76 L352.05,577.68 M361.70,564.42 L361.72,564.40" stroke="#000" stroke-width="3" fill="none" stroke-linejoin="round" stroke-linecap="round"/>
<path d="M112.30,862.80 L113.30,862.72 L114.30,862.64 L115.30,862.56 L116.29,862.48 L117.29,862.41 L118.29,862.33 L119.29,862.25 L120.29,862.17 L121.29,862.09 L122.29,862.01 L123.29,861.93 L124.28,861.86 L125.28,861.78 L126.28,861.71 L127.28,861.65 L128.28,861.60 L129.28,861.56 L130.28,861.53 L131.29,861.50 L132.29,861.47 L133.29,861.45 L134.29,861.42 L135.29,861.39 L136.29,861.37 L137.30,861.34 L138.30,861.31 L139.30,861.29 L140.30,861.26 L141.30,861.23 L142.30,861.21 L143.30,861.18 L144.31,861.15 L145.31,861.12 L146.31,861.10 L147.31,861.07 L148.31,861.04 L149.31,861.00 L150.31,860.97 L151.31,860.92 L152.31,860.87 L153.32,860.82 L154.32,860.77 L155.32,860.72 L156.32,860.66 L157.32,860.61 L158.32,860.56 L159.32,860.50 L160.32,860.45 L161.32,860.40 L162.32,860.34 L163.32,860.29 L164.32,860.24 L165.32,860.18 L166.32,860.13 L167.32,860.08 L168.32,860.02 L169.32,859.97 L170.32,859.91 L171.32,859.85 L172.32,859.79 L173.32,859.72 L174.32,859.65 L175.32,859.57 L176.32,859.49 L177.32,859.42 L178.32,859.34 L179.31,859.26 L180.31,859.18 L181.31,859.10 L182.31,859.03 L183.31,858.95 L184.31,858.87 L185.30,858.78 L186.28,858.65 L187.25,858.47 L188.20,858.22 L189.12,857.89 L190.03,857.50 L190.92,857.06 L191.80,856.59 L192.67,856.09 L193.51,855.57 L194.33,855.01 L195.12,854.40 L195.87,853.75 L196.60,853.07 L197.31,852.38 L198.02,851.67 L198.72,850.95 L199.40,850.22 L200.07,849.48 L200.70,848.71 L201.32,847.92 L201.92,847.12 L202.51,846.31 L203.08,845.49 L203.64,844.66 L204.18,843.82 L204.69,842.96 L205.18,842.09 L205.65,841.21 L206.11,840.32 L206.57,839.43 L207.02,838.53 L207.47,837.64 L207.92,836.74 L208.36,835.85 L208.81,834.95 L209.25,834.05 L209.69,833.15 L210.12,832.25 L210.55,831.34 L210.96,830.43 L211.35,829.51 L211.74,828.58 L212.12,827.66 L212.50,826.73 L212.87,825.80 L213.24,824.87 L213.61,823.94 L213.98,823.00 L214.34,822.07 L214.70,821.13 L215.05,820.20 L215.39,819.26 L215.74,818.32 L216.08,817.37 L216.41,816.43 L216.73,815.48 L217.04,814.53 L217.34,813.57 L217.64,812.62 L217.94,811.66 L218.24,810.70 L218.54,809.75 L218.85,808.80 L219.17,807.85 L219.50,806.90 L219.85,805.96 L220.20,805.02 L220.55,804.09 L220.90,803.15 L221.25,802.21 L221.59,801.27 L221.92,800.32 L222.24,799.37 L222.55,798.42 L222.84,797.46 L223.13,796.50 L223.41,795.54 L223.70,794.58 L223.99,793.63 L224.29,792.67 L224.59,791.71 L224.90,790.76 L225.21,789.81 L225.52,788.85 L225.83,787.90 L226.14,786.95 L226.44,786.00 L226.75,785.04 L227.06,784.09 L227.36,783.13 L227.66,782.18 L227.96,781.22 L228.26,780.26 L228.55,779.31 L228.85,778.35 L229.16,777.40 L229.46,776.44 L229.78,775.49 L230.11,774.55 L230.44,773.60 L230.78,772.66 L231.13,771.72 L231.48,770.78 L231.82,769.84 L232.17,768.90 L232.52,767.96 L232.86,767.02 L233.20,766.08 L233.54,765.14 L233.88,764.19 L234.22,763.25 L234.56,762.31 L234.89,761.36 L235.23,760.42 L235.57,759.48 L235.91,758.53 L236.25,757.59 L236.60,756.65 L236.95,755.71 L237.30,754.78 L237.66,753.84 L238.01,752.91 L238.37,751.97 L238.73,751.03 L239.09,750.10 L239.45,749.16 L239.81,748.23 L240.18,747.30 L240.55,746.37 L240.93,745.44 L241.30,744.51 L241.68,743.58 L242.06,742.65 L242.44,741.73 L242.82,740.80 L243.20,739.87 L243.58,738.95 L243.96,738.02 L244.34,737.09 L244.73,736.17 L245.11,735.24 L245.50,734.32 L245.88,733.40 L246.27,732.47 L246.66,731.55 L247.04,730.62 L247.43,729.70 L247.81,728.77 L248.20,727.85 L248.58,726.92 L248.96,725.99 L249.34,725.07 L249.72,724.14 L250.11,723.22 L250.52,722.32 L250.96,721.44 L251.47,720.61 L252.03,719.83 L252.64,719.08 L253.25,718.32 L253.83,717.54 L254.38,716.72 L254.89,715.88 L255.40,715.02 L255.92,714.16 L256.44,713.31 L256.96,712.46 L257.49,711.60 L258.02,710.75 L258.55,709.90 L259.08,709.05 L259.61,708.20 L260.14,707.35 L260.67,706.50 L261.20,705.66 L261.74,704.81 L262.30,703.98 L262.86,703.15 L263.44,702.33 L264.03,701.52 L264.63,700.72 L265.23,699.92 L265.83,699.12 L266.44,698.33 L267.05,697.53 L267.67,696.74 L268.29,695.96 L268.92,695.18 L269.55,694.40 L270.18,693.62 L270.82,692.85 L271.46,692.08 L272.12,691.32 L272.78,690.58 L273.45,689.83 L274.13,689.10 L274.82,688.36 L275.50,687.64 L276.20,686.92 L276.91,686.21 L277.63,685.52 L278.37,684.85 L279.13,684.19 L279.88,683.54 L280.65,682.89 L281.42,682.25 L282.19,681.61 L282.97,680.98 L283.76,680.37 L284.56,679.76 L285.35,679.15 L286.15,678.55 L286.96,677.95 L287.77,677.37 L288.59,676.79 L289.42,676.23 L290.26,675.69 L291.10,675.15 L291.95,674.61 L292.80,674.08 L293.65,673.55 L294.50,673.02 L295.35,672.49 L296.20,671.96 L297.05,671.44 L297.90,670.91 L298.75,670.38 L299.60,669.85 L300.45,669.32 L301.30,668.79 L302.15,668.26 L303.00,667.73 L303.85,667.20 L304.70,666.67 L305.56,666.14 L306.41,665.61 L307.26,665.08 L308.11,664.55 L308.96,664.03 L309.81,663.50 L310.67,662.98 L311.52,662.45 L312.37,661.92 L313.23,661.40 L314.08,660.88 L314.94,660.35 L315.79,659.84 L316.65,659.32 L317.51,658.81 L318.37,658.30 L319.23,657.78 L320.10,657.27 L320.96,656.76 L321.82,656.25 L322.68,655.74 L323.54,655.23 L324.40,654.71 L325.26,654.20 L326.13,653.69 L326.99,653.18 L327.85,652.67 L328.71,652.16 L329.57,651.64 L330.43,651.13 L331.29,650.62 L332.15,650.11 L333.02,649.60 L333.88,649.09 L334.74,648.57 L335.60,648.06 L336.46,647.55 L337.32,647.04 L338.18,646.53 L339.04,646.02 L339.91,645.50 L340.77,644.99 L341.63,644.48 L342.49,643.97 L343.35,643.46 L344.21,642.95 L345.07,642.43 L345.94,641.92 L346.80,641.41 L347.66,640.90 L348.52,640.39 L349.38,639.88 L350.24,639.36 L351.10,638.85 L351.96,638.34 L352.83,637.83 L353.69,637.32 L354.55,636.81 L355.41,636.29 L356.27,635.78 L357.13,635.27 L357.99,634.76 L358.85,634.25 L359.72,633.74 L360.58,633.22 L361.44,632.71 L362.30,632.20" stroke="#000" stroke-width="3" fill="none" stroke-linejoin="round" stroke-linecap="round"/>
<path d="M599.33,697.91 L599.38,697.82 L599.87,696.95 L600.36,696.08 L600.86,695.21 L601.35,694.34 L601.84,693.47 L602.34,692.59 L602.83,691.72 L603.33,690.85 L603.82,689.98 L603.87,689.90 M609.78,679.68 L609.83,679.59 L610.36,678.75 L610.90,677.90 L611.44,677.06 L611.98,676.22 L612.53,675.38 L613.08,674.54 L613.13,674.46 M620.66,664.11 L620.73,664.03 L621.33,663.23 L621.93,662.43 L622.53,661.63 L623.13,660.83 L623.74,660.04 L624.36,659.25 L624.98,658.47 L625.04,658.39 M632.41,650.51 L632.48,650.44 L633.20,649.75 L633.93,649.06 L634.66,648.38 L635.40,647.71 L636.14,647.03 L636.88,646.36 L636.95,646.29 M642.19,642.02 L642.26,641.97 L643.10,641.46 L643.97,640.99 L644.86,640.55 L645.76,640.15 L646.68,639.79 L646.77,639.76 M657.16,639.38 L657.24,639.40 L658.16,639.74 L659.07,640.12 L659.95,640.55 L660.03,640.59 M667.91,646.34 L667.99,646.40 L668.76,647.04 L669.52,647.68 L670.28,648.33 L671.03,648.99 L671.75,649.67 L671.82,649.73 M680.28,660.57 L680.34,660.66 L680.88,661.49 L681.41,662.34 L681.94,663.19 L682.46,664.04 L682.97,664.90 L683.46,665.77 L683.95,666.64 L684.41,667.53 L684.45,667.61 M689.28,679.45 L689.32,679.54 L689.70,680.47 L690.09,681.39 L690.49,682.31 L690.89,683.23 L691.28,684.14 L691.67,685.06 L692.06,685.99 L692.43,686.91 L692.47,687.01 M696.89,701.12 L696.92,701.22 L697.21,702.18 L697.49,703.14 L697.77,704.10 L698.06,705.06 L698.34,706.02 L698.62,706.98 L698.90,707.94 L699.18,708.90 L699.45,709.86 L699.48,709.96 M703.72,725.18 L703.75,725.27 L704.08,726.22 L704.42,727.15 L704.77,728.09 L705.13,729.02 L705.50,729.95 L705.86,730.88 L706.23,731.81 L706.60,732.74 L706.98,733.67 L707.01,733.77 M711.98,745.56 L712.03,745.65 L712.48,746.54 L712.95,747.42 L713.43,748.29 L713.93,749.15 L714.46,749.99 L715.01,750.80 L715.60,751.58 L715.65,751.64 M722.70,756.41 L722.78,756.44 L723.71,756.78 L724.63,757.08 L725.56,757.33 L726.49,757.51 L727.42,757.60 L727.45,757.60 M734.76,755.74 L734.85,755.71 L735.78,755.33 L736.70,754.94 L737.62,754.55 L738.54,754.16 L739.46,753.78 L739.56,753.74 M743.95,751.84 L744.04,751.79 L744.94,751.36 L745.84,750.92 L746.73,750.47 L747.62,750.03 L748.52,749.59 L748.61,749.55 M755.90,747.16 L755.97,747.15 L756.93,747.01 L757.88,746.86 L758.82,746.69 L758.87,746.68 M768.43,742.13 L768.52,742.09 L769.42,741.66 L770.33,741.25 L771.25,740.86 L772.17,740.48 L772.27,740.44" stroke="#000" stroke-width="3" fill="none" stroke-linejoin="round" stroke-linecap="round"/>
<path d="M503.70,860.70 L504.70,860.66 L505.70,860.62 L506.70,860.58 L507.70,860.54 L508.70,860.50 L509.71,860.46 L510.71,860.42 L511.71,860.37 L512.71,860.33 L513.71,860.28 L514.71,860.23 L515.71,860.18 L516.71,860.13 L517.71,860.08 L518.71,860.02 L519.71,859.95 L520.71,859.88 L521.70,859.80 L522.70,859.70 L523.70,859.60 L524.69,859.48 L525.68,859.34 L526.67,859.19 L527.65,859.02 L528.63,858.83 L529.61,858.62 L530.58,858.39 L531.54,858.13 L532.49,857.83 L533.42,857.50 L534.34,857.13 L535.24,856.72 L536.12,856.28 L536.99,855.79 L537.83,855.27 L538.65,854.71 L539.45,854.12 L540.24,853.51 L541.01,852.88 L541.76,852.22 L542.49,851.54 L543.20,850.84 L543.88,850.12 L544.54,849.38 L545.18,848.61 L545.79,847.83 L546.38,847.02 L546.94,846.20 L547.49,845.36 L548.02,844.52 L548.53,843.66 L549.02,842.79 L549.50,841.91 L549.97,841.03 L550.43,840.14 L550.89,839.25 L551.33,838.35 L551.77,837.45 L552.20,836.55 L552.62,835.64 L553.04,834.73 L553.45,833.81 L553.86,832.90 L554.26,831.98 L554.66,831.06 L555.05,830.14 L555.44,829.22 L555.82,828.29 L556.20,827.37 L556.57,826.43 L556.93,825.50 L557.29,824.57 L557.65,823.63 L558.00,822.69 L558.34,821.75 L558.67,820.81 L559.00,819.86 L559.32,818.91 L559.64,817.96 L559.95,817.01 L560.26,816.06 L560.56,815.10 L560.86,814.15 L561.15,813.19 L561.43,812.23 L561.71,811.27 L561.99,810.30 L562.25,809.34 L562.52,808.37 L562.78,807.40 L563.04,806.44 L563.29,805.47 L563.55,804.50 L563.79,803.53 L564.03,802.56 L564.27,801.58 L564.50,800.61 L564.73,799.63 L564.96,798.66 L565.18,797.68 L565.41,796.70 L565.63,795.73 L565.85,794.75 L566.07,793.78 L566.30,792.80 L566.52,791.82 L566.75,790.85 L566.98,789.87 L567.21,788.90 L567.44,787.92 L567.67,786.95 L567.91,785.97 L568.14,785.00 L568.38,784.03 L568.61,783.05 L568.85,782.08 L569.10,781.11 L569.34,780.14 L569.60,779.17 L569.87,778.21 L570.14,777.24 L570.42,776.28 L570.71,775.32 L571.00,774.36 L571.29,773.41 L571.59,772.45 L571.89,771.49 L572.19,770.54 L572.48,769.58 L572.78,768.62 L573.08,767.67 L573.37,766.71 L573.67,765.75 L573.96,764.79 L574.25,763.84 L574.54,762.88 L574.83,761.92 L575.13,760.96 L575.42,760.00 L575.71,759.04 L576.00,758.08 L576.28,757.13 L576.57,756.17 L576.86,755.21 L577.15,754.25 L577.43,753.29 L577.72,752.33 L578.00,751.37 L578.29,750.41 L578.58,749.45 L578.86,748.49 L579.15,747.53 L579.44,746.57 L579.73,745.61 L580.02,744.65 L580.31,743.69 L580.60,742.73 L580.89,741.77 L581.18,740.82 L581.48,739.86 L581.77,738.90 L582.07,737.94 L582.37,736.99 L582.67,736.03 L582.97,735.08 L583.28,734.12 L583.59,733.17 L583.90,732.22 L584.21,731.27 L584.52,730.32 L584.84,729.37 L585.16,728.42 L585.49,727.47 L585.82,726.52 L586.15,725.58 L586.49,724.64 L586.83,723.70 L587.18,722.75 L587.52,721.81 L587.87,720.87 L588.22,719.94 L588.57,719.00 L588.93,718.06 L589.30,717.13 L589.68,716.21 L590.06,715.28 L590.46,714.37 L590.87,713.45 L591.29,712.54 L591.72,711.64 L592.15,710.74 L592.59,709.84 L593.04,708.94 L593.48,708.04 L593.93,707.14 L594.38,706.25 L594.83,705.35 L595.27,704.46 L595.72,703.56 L596.18,702.67 L596.63,701.78 L597.09,700.88 L597.55,700.00 L598.02,699.11 L598.49,698.22 L598.96,697.34 L599.44,696.46 L599.91,695.58 L600.39,694.70 L600.88,693.82 L601.36,692.95 L601.85,692.08 L602.35,691.21 L602.87,690.35 L603.39,689.50 L603.94,688.67 L604.50,687.84 L605.08,687.02 L605.66,686.22 L606.26,685.41 L606.86,684.61 L607.47,683.82 L608.08,683.02 L608.70,682.23 L609.32,681.44 L609.94,680.66 L610.56,679.88 L611.19,679.10 L611.83,678.32 L612.47,677.55 L613.10,676.78 L613.74,676.01 L614.38,675.24 L615.03,674.47 L615.67,673.70 L616.31,672.93 L616.96,672.17 L617.61,671.41 L618.27,670.65 L618.93,669.91 L619.61,669.18 L620.31,668.46 L621.02,667.76 L621.74,667.07 L622.48,666.39 L623.22,665.72 L623.97,665.06 L624.72,664.40 L625.48,663.74 L626.23,663.08 L626.99,662.43 L627.75,661.78 L628.52,661.14 L629.29,660.50 L630.07,659.87 L630.86,659.25 L631.65,658.64 L632.45,658.04 L633.25,657.44 L634.06,656.84 L634.87,656.25 L635.68,655.66 L636.49,655.08 L637.30,654.50 L638.12,653.92 L638.95,653.36 L639.78,652.81 L640.63,652.27 L641.48,651.74 L642.34,651.23 L643.20,650.72 L644.07,650.22 L644.94,649.73 L645.81,649.24 L646.69,648.76 L647.57,648.28 L648.45,647.82 L649.34,647.38 L650.24,646.97 L651.15,646.60 L652.08,646.29 L653.02,646.04 L653.98,645.85 L654.95,645.71 L655.93,645.64 L656.91,645.63 L657.90,645.67 L658.87,645.77 L659.83,645.93 L660.78,646.16 L661.70,646.45 L662.60,646.82 L663.47,647.25 L664.30,647.74 L665.09,648.30 L665.84,648.92 L666.55,649.58 L667.24,650.29 L667.90,651.03 L668.54,651.79 L669.17,652.56 L669.78,653.35 L670.38,654.15 L670.96,654.97 L671.53,655.79 L672.09,656.62 L672.64,657.45 L673.18,658.29 L673.71,659.14 L674.23,660.00 L674.73,660.86 L675.21,661.74 L675.68,662.62 L676.13,663.51 L676.58,664.41 L677.01,665.31 L677.43,666.22 L677.84,667.13 L678.25,668.05 L678.64,668.97 L679.02,669.89 L679.38,670.82 L679.74,671.76 L680.08,672.70 L680.42,673.64 L680.75,674.59 L681.08,675.53 L681.41,676.48 L681.73,677.43 L682.06,678.37 L682.38,679.32 L682.71,680.27 L683.04,681.22 L683.36,682.16 L683.68,683.11 L684.00,684.06 L684.31,685.01 L684.62,685.97 L684.91,686.92 L685.20,687.88 L685.47,688.84 L685.74,689.81 L686.00,690.78 L686.25,691.74 L686.51,692.71 L686.77,693.68 L687.03,694.65 L687.29,695.61 L687.56,696.58 L687.83,697.54 L688.10,698.51 L688.37,699.47 L688.63,700.44 L688.89,701.41 L689.15,702.37 L689.40,703.34 L689.66,704.31 L689.91,705.28 L690.16,706.25 L690.40,707.22 L690.65,708.19 L690.90,709.16 L691.14,710.13 L691.39,711.11 L691.63,712.08 L691.87,713.05 L692.11,714.02 L692.35,715.00 L692.59,715.97 L692.82,716.94 L693.06,717.92 L693.28,718.89 L693.51,719.87 L693.73,720.84 L693.95,721.82 L694.16,722.80 L694.37,723.78 L694.57,724.76 L694.78,725.74 L694.98,726.72 L695.18,727.71 L695.38,728.69 L695.58,729.67 L695.78,730.65 L695.98,731.63 L696.17,732.61 L696.37,733.60 L696.56,734.58 L696.75,735.56 L696.95,736.55 L697.14,737.53 L697.33,738.51 L697.53,739.49 L697.72,740.48 L697.91,741.46 L698.11,742.44 L698.30,743.43 L698.50,744.41 L698.69,745.39 L698.88,746.37 L699.08,747.36 L699.28,748.34 L699.47,749.32 L699.67,750.30 L699.87,751.29 L700.07,752.27 L700.27,753.25 L700.47,754.23 L700.67,755.21 L700.87,756.19 L701.08,757.17 L701.28,758.15 L701.49,759.13 L701.70,760.11 L701.92,761.09 L702.14,762.07 L702.37,763.04 L702.60,764.02 L702.83,764.99 L703.07,765.96 L703.31,766.94 L703.55,767.91 L703.79,768.88 L704.03,769.85 L704.27,770.83 L704.51,771.80 L704.76,772.77 L705.00,773.74 L705.25,774.71 L705.49,775.68 L705.74,776.65 L705.99,777.63 L706.23,778.60 L706.48,779.57 L706.72,780.54 L706.96,781.51 L707.20,782.48 L707.44,783.46 L707.67,784.43 L707.91,785.40 L708.16,786.37 L708.40,787.34 L708.66,788.31 L708.94,789.27 L709.23,790.23 L709.54,791.18 L709.87,792.12 L710.22,793.06 L710.58,793.99 L710.96,794.91 L711.36,795.84 L711.76,796.75 L712.16,797.67 L712.57,798.58 L712.99,799.49 L713.41,800.40 L713.84,801.30 L714.28,802.20 L714.74,803.08 L715.22,803.96 L715.72,804.82 L716.24,805.67 L716.79,806.50 L717.35,807.33 L717.93,808.14 L718.53,808.94 L719.14,809.72 L719.78,810.48 L720.45,811.21 L721.14,811.92 L721.86,812.60 L722.62,813.24 L723.39,813.86 L724.19,814.44 L725.01,814.99 L725.85,815.51 L726.71,815.97 L727.60,816.39 L728.51,816.76 L729.44,817.09 L730.39,817.37 L731.35,817.63 L732.31,817.85 L733.29,818.03 L734.26,818.17 L735.25,818.28 L736.23,818.33 L737.22,818.34 L738.21,818.31 L739.20,818.25 L740.20,818.17 L741.19,818.07 L742.18,817.96 L743.18,817.83 L744.16,817.68 L745.15,817.52 L746.14,817.35 L747.12,817.16 L748.10,816.95 L749.08,816.74 L750.05,816.52 L751.03,816.30 L752.01,816.08 L752.98,815.86 L753.96,815.64 L754.94,815.42 L755.91,815.20 L756.89,814.98 L757.87,814.77 L758.85,814.55 L759.83,814.34 L760.81,814.13 L761.79,813.92 L762.77,813.71 L763.75,813.51 L764.73,813.31 L765.71,813.11 L766.70,812.92 L767.68,812.73 L768.66,812.54 L769.65,812.36 L770.63,812.17 L771.62,811.99 L772.60,811.80" stroke="#000" stroke-width="3" fill="none" stroke-linejoin="round" stroke-linecap="round"/>
</svg>
</body></html>
